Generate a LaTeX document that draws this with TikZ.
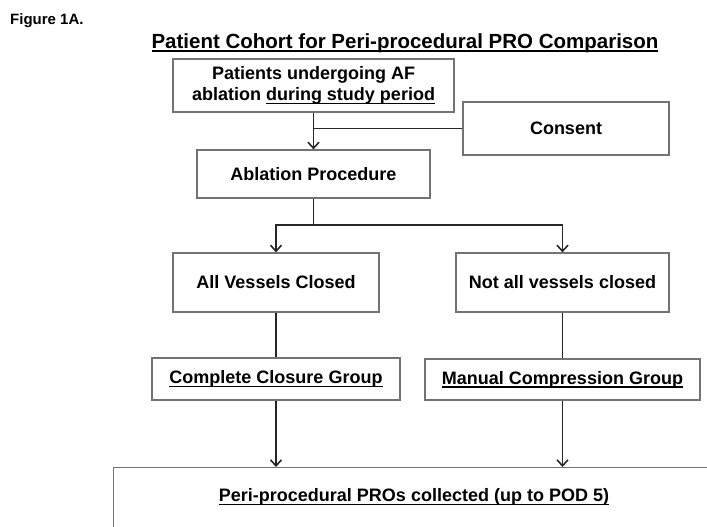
\documentclass[tikz,border=0pt]{standalone}
\usepackage{fontspec}
\setmainfont{Liberation Sans}
\usetikzlibrary{calc,arrows.meta}
\newcommand{\undl}[1]{\setbox0\hbox{#1}\rlap{\rule[-3.8pt]{\wd0}{1.6pt}}\box0}

\begin{document}
\begin{tikzpicture}[x=1pt, y=-1pt, font=\bfseries\fontsize{18}{21}\selectfont,
        block/.style={draw=black!55, line width=1.2pt, align=center, inner sep=0pt},
        flow/.style={line width=1.9pt, draw=black!85},
        >={Straight Barb[length=6pt,width=11pt,line width=1.6pt]},]
        \useasboundingbox (0,0) rectangle (707,527);
        \node[anchor=west, inner sep=0pt, font=\bfseries\fontsize{15}{18}\selectfont] (fig) at (10,21) {Figure 1A.};
        \node[inner sep=0pt, font=\bfseries\fontsize{20.5}{24}\selectfont] (title) at (405,43) {\undl{Patient Cohort for Peri-procedural PRO Comparison}};
        \node[block, minimum width=281, minimum height=53] (pat) at (313.5,85.5) {Patients undergoing AF\\ablation \undl{during study period}};
        \node[block, minimum width=206, minimum height=53] (cons) at (566,128.5) {Consent};
        \node[block, minimum width=233, minimum height=48] (abl) at (313.5,174) {Ablation Procedure};
        \node[block, minimum width=206, minimum height=59] (allv) at (276,282.5) {All Vessels Closed};
        \node[block, minimum width=213, minimum height=59] (nall) at (562.5,282.5) {Not all vessels closed};
        \node[block, minimum width=248, minimum height=42] (ccg) at (276,379) {\undl{Complete Closure Group}};
        \node[block, minimum width=275, minimum height=41] (mcg) at (562.5,379.5) {\undl{Manual Compression Group}};
        \node[block, anchor=north west, minimum width=700, minimum height=120] (pros) at (113,467) {};
        \node[inner sep=0pt] (prostxt) at (414,497) {\undl{Peri-procedural PROs collected (up to POD 5)}};
        % consent joins the main line
        \draw[flow, ->] (pat.south) -- (abl.north);
        \draw[flow] (cons.west) -- (cons.west -| pat.south);
        % split into the two groups
        \coordinate (fork) at ($(abl.south)+(0,26)$);
        \draw[flow] (abl.south) -- (fork);
        \draw[flow, ->] (fork) -| (allv.north);
        \draw[flow, ->] (fork) -| (nall.north);
        \draw[flow] (allv) -- (ccg);
        \draw[flow] (nall) -- (mcg);
        \draw[flow, ->] (ccg.south) -- (ccg.south |- pros.north);
        \draw[flow, ->] (mcg.south) -- (mcg.south |- pros.north);
\end{tikzpicture}
\end{document}
